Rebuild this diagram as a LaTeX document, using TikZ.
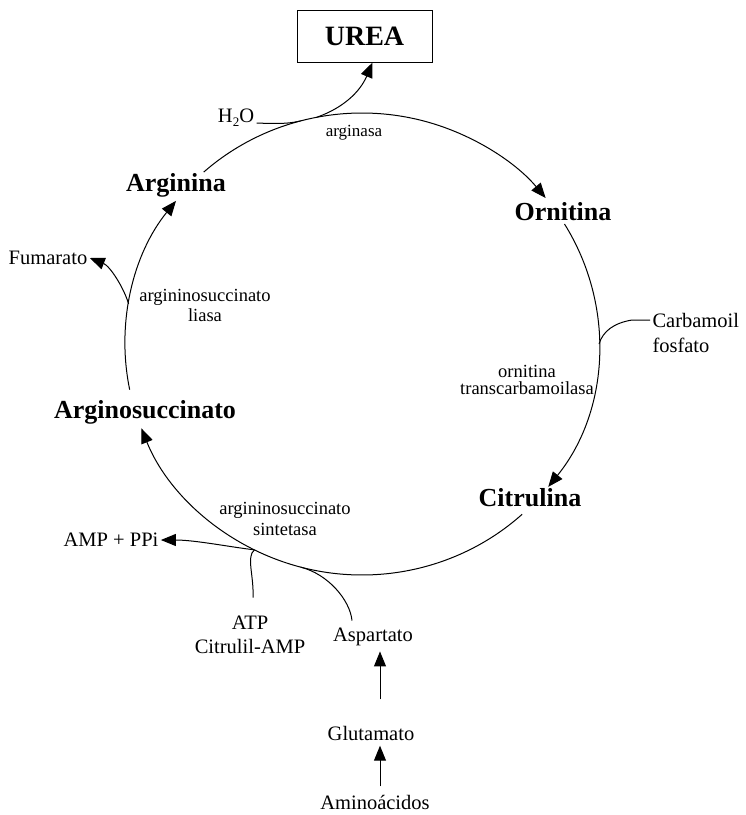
\documentclass[tikz,border=0pt]{standalone}
\usepackage{fontspec}
\setmainfont{Liberation Serif}
\usetikzlibrary{arrows.meta,calc}
\begin{document}
\begin{tikzpicture}[x=1pt,y=1pt, line width=1pt,
  arr/.style={-{Triangle[length=15pt,width=12pt]}},
  bigl/.style={font=\fontsize{26}{28}\selectfont\bfseries, inner sep=2pt},
  regl/.style={font=\fontsize{20.5}{24}\selectfont, inner sep=2pt},
  enzl/.style={font=\fontsize{18.5}{21}\selectfont, align=center, inner sep=2pt}]
\useasboundingbox (0,0) rectangle (746,-815);
\fill[white] (0,0) rectangle (746,-815);
\coordinate (cen) at (362,-344);
% nodes
\node[draw, line width=1pt, minimum width=135pt, minimum height=52pt, inner sep=0pt,
      font=\fontsize{28}{30}\selectfont\bfseries] (urea) at (364.5,-36) {UREA};
\node[regl] (h2o) at (236,-118) {H\raisebox{-4pt}{\fontsize{13}{13}\selectfont 2}O};
\node[enzl, font=\fontsize{17}{20}\selectfont] (argasa) at (354,-133) {arginasa};
\node[bigl] (arginina) at (176,-185) {Arginina};
\node[bigl] (ornitina) at (563,-212) {Ornitina};
\node[regl] (fum) at (48,-258) {Fumarato};
\node[enzl, font=\fontsize{18.5}{20}\selectfont] (liasa) at (205,-305) {argininosuccinato\\liasa};
\node[regl, anchor=west] (carb) at (650,-320) {Carbamoil};
\node[regl, anchor=west] (fosf) at (650,-345) {fosfato};
\node[enzl, font=\fontsize{18.5}{17}\selectfont] (otc) at (527,-380) {ornitina\\transcarbamoilasa};
\node[bigl] (argsuc) at (145,-412) {Arginosuccinato};
\node[bigl] (citrulina) at (530,-498) {Citrulina};
\node[enzl, font=\fontsize{18.5}{21}\selectfont] (sint) at (285,-519) {argininosuccinato\\sintetasa};
\node[regl] (amp) at (111,-540) {AMP + PPi};
\node[regl, align=center, font=\fontsize{20.5}{24}\selectfont] (atp) at (250,-635) {ATP\\Citrulil-AMP};
\node[regl] (asp) at (373,-637) {Aspartato};
\node[regl] (glu) at (371,-733) {Glutamato};
\node[regl] (amino) at (375,-802) {Aminoácidos};
% points on the cycle
\coordinate (a1s) at ($(cen)+(131.9:237 and 231)$);
\coordinate (a2s) at ($(cen)+(31.3:237 and 231)$);
\coordinate (a3s) at ($(cen)+(-47.5:237 and 231)$);
\coordinate (a4s) at ($(cen)+(-168.6:237 and 231)$);
\coordinate (mh2o) at ($(cen)+(105:237 and 231)$);
\coordinate (murea) at ($(cen)+(101:237 and 231)$);
\coordinate (mfum) at ($(cen)+(-190:237 and 231)$);
\coordinate (mcarb) at ($(cen)+(0:237 and 231)$);
\coordinate (mamp) at ($(cen)+(-117:237 and 231)$);
\coordinate (masp) at ($(cen)+(-105:237 and 231)$);
% cycle arcs
\draw[arr] (a1s) arc[start angle=131.9, end angle=39.2, x radius=237, y radius=231];
\draw[arr] (a2s) arc[start angle=31.3, end angle=-38.2, x radius=237, y radius=231];
\draw[arr] (a3s) arc[start angle=-47.5, end angle=-158.6, x radius=237, y radius=231];
\draw[arr] (a4s) arc[start angle=-168.6, end angle=-218.3, x radius=237, y radius=231];
% branches
\draw ([yshift=-5pt]h2o.east) .. controls (280,-124) and (290,-123.5) .. (mh2o);
\draw[arr] (murea) .. controls (343,-108) and (360,-92) .. ([xshift=8pt]urea.south);
\draw[arr] (mfum) .. controls (124,-288) and (110,-266) .. (fum.east);
\draw (carb.west) -- ++(-18,0) .. controls (614,-323) and (603,-331) .. (mcarb);
\draw[arr] (mamp) .. controls (230,-547) and (195,-540) .. (amp.east);
\draw ([xshift=3pt,yshift=16pt]atp.north) .. controls (254,-575) and (246,-557) .. (mamp);
\draw ([xshift=-21pt,yshift=5pt]asp.north) .. controls (350,-600) and (328,-574) .. (masp);
\draw[arr] ([xshift=9pt,yshift=24pt]glu.north) -- ([xshift=7pt,yshift=-3pt]asp.south);
\draw[arr] ([xshift=5pt,yshift=6pt]amino.north) -- ([xshift=9pt,yshift=-3pt]glu.south);
\end{tikzpicture}
\end{document}
